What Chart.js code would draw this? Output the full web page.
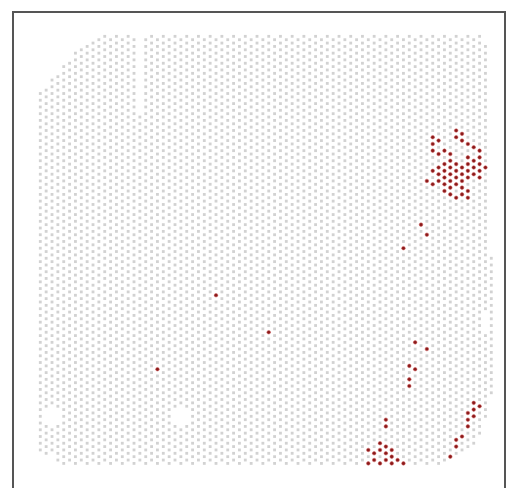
<!DOCTYPE html>
<html>
<head>
<meta charset="utf-8">
<script src="https://cdn.jsdelivr.net/npm/chart.js@4.4.0/dist/chart.umd.min.js"></script>
<style>
  html, body { margin: 0; padding: 0; background: #fff; }
  #wrap { position: relative; width: 512px; height: 488px; overflow: hidden; }
  #frame { position: absolute; left: 12px; top: 11px; width: 494px; height: 490px; border: 2px solid #555; box-sizing: border-box; }
  #spots { position: absolute; left: 0; top: 0; }
</style>
</head>
<body>
<div id="wrap">
  <div id="frame"></div>
  <canvas id="spots" width="512" height="488"></canvas>
</div>
<script>
// spot array: 78 array rows drawn left to right, 128 half-columns top to bottom
// a spot exists where (row + col) is odd
const ROW_COUNT = 78;

// first / last half-column in tissue for each array row
const TISSUE_TOP = [
  16, 15, 13, 11, 9, 7, 5, 4, 3, 2, 1, 0, 0, 0, 0, 0, 0, 0, 0, 0,
  0, 0, 0, 0, 0, 0, 0, 0, 0, 0, 0, 0, 0, 0, 0, 0, 0, 0, 0, 0,
  0, 0, 0, 0, 0, 0, 0, 0, 0, 0, 0, 0, 0, 0, 0, 0, 0, 0, 0, 0,
  0, 0, 0, 0, 0, 0, 0, 0, 0, 0, 0, 0, 0, 0, 0, 0, 3, 66,
];
const TISSUE_BOTTOM = [
  124, 124, 124, 127, 127, 127, 127, 127, 127, 127, 127, 127, 127, 127, 127, 127, 127, 127, 127, 127,
  127, 127, 127, 127, 127, 127, 127, 127, 127, 127, 127, 127, 127, 127, 127, 127, 127, 127, 127, 127,
  127, 127, 127, 127, 127, 127, 127, 127, 127, 127, 127, 127, 127, 127, 127, 127, 127, 127, 127, 127,
  127, 127, 127, 127, 127, 127, 127, 127, 127, 127, 126, 125, 124, 122, 121, 119, 114, 106,
];

// holes inside the tissue: [row, fromCol, toCol]
const TISSUE_GAPS = [
  [17, 0, 22],
  [1, 111, 115], [2, 111, 115], [3, 111, 115],
  [23, 111, 115], [24, 111, 115], [25, 111, 115],
  [76, 83, 88],
];

// highlighted spots: [row, col]
const HIGHLIGHT_SPOTS = [
  [71, 28], [72, 29], [67, 30], [71, 30], [68, 31], [72, 31], [67, 32], [73, 32], [74, 33],
  [67, 34], [68, 35], [69, 34], [70, 35], [73, 36], [75, 34], [74, 37], [75, 36],
  [69, 38], [70, 37], [71, 38], [73, 38], [74, 39], [75, 38], [68, 39], [70, 39], [72, 39], [76, 39],
  [67, 40], [68, 41], [69, 40], [70, 41], [71, 40], [72, 41], [73, 40], [74, 41], [75, 40],
  [66, 43], [68, 43], [69, 42], [70, 43], [71, 42], [72, 43], [73, 42], [75, 42],
  [67, 44], [69, 44], [70, 45], [71, 44], [72, 45], [73, 46], [70, 47],
  [69, 46], [71, 48], [72, 47], [73, 48],
  [65, 56], [66, 59], [62, 63],
  [30, 77], [39, 88], [20, 99],
  [64, 91], [66, 93], [63, 98], [64, 99], [63, 102], [63, 104],
  [59, 114], [59, 116],
  [58, 121], [59, 122], [56, 123], [58, 123], [60, 123], [57, 124], [59, 124], [60, 125],
  [57, 126], [59, 126], [61, 126], [56, 127], [58, 127], [60, 127], [62, 127],
  [74, 109], [75, 110], [74, 111], [73, 112], [74, 113], [73, 114], [73, 116],
  [72, 119], [71, 120], [71, 122], [70, 125],
];

const isGap = (r, c) => TISSUE_GAPS.some(([gr, from, to]) => gr === r && c >= from && c <= to);
const isHighlight = (r, c) => HIGHLIGHT_SPOTS.some(([hr, hc]) => hr === r && hc === c);

const background = [];
for (let r = 0; r < ROW_COUNT; r++) {
  for (let c = TISSUE_TOP[r]; c <= TISSUE_BOTTOM[r]; c++) {
    if ((r + c) % 2 === 0) continue;
    if (isGap(r, c) || isHighlight(r, c)) continue;
    background.push({ x: r, y: c });
  }
}
const highlighted = HIGHLIGHT_SPOTS.map(([r, c]) => ({ x: r, y: c }));

new Chart(document.getElementById('spots'), {
  type: 'scatter',
  data: {
    datasets: [
      {
        data: highlighted,
        backgroundColor: '#8b1a1a',
        borderColor: 'rgba(205, 92, 92, 0.5)',
        borderWidth: 1,
        pointRadius: 1.8,
      },
      {
        data: background,
        backgroundColor: '#d2d2d2',
        borderWidth: 0,
        pointStyle: 'rect',
        pointRadius: 2.0,
      },
    ],
  },
  options: {
    responsive: false,
    animation: false,
    events: [],
    layout: { padding: 0 },
    plugins: { legend: { display: false }, tooltip: { enabled: false } },
    scales: {
      x: { type: 'linear', display: false, min: -6.026, max: 79.68 },
      y: { type: 'linear', display: false, reverse: true, min: -9.32, max: 132.83 },
    },
  },
});
</script>
</body>
</html>
